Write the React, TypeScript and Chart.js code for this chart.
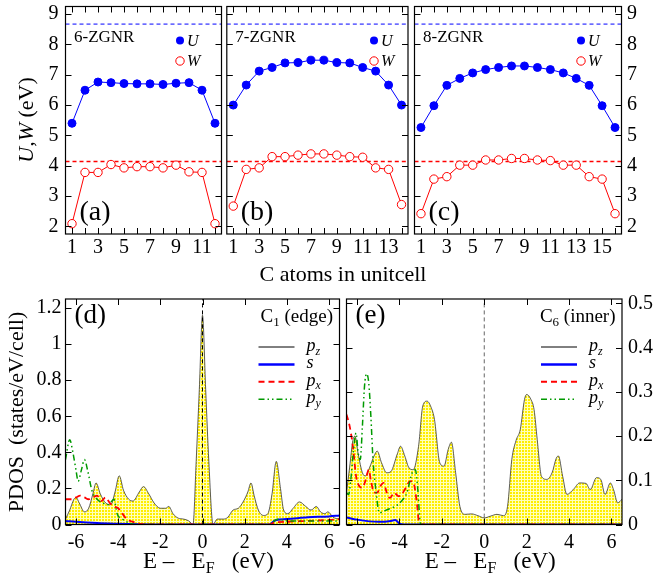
import React, { useEffect, useRef } from "react";
import { Chart, registerables } from "chart.js";
Chart.register(...registerables);

const W = 654;
const H = 585;
const FONT = '"Liberation Serif", "Times New Roman", serif';

// ---------------- Top panels: U and W for each C atom ----------------
const atoms6 = [1, 2, 3, 4, 5, 6, 7, 8, 9, 10, 11, 12];
const U6 = [5.4, 6.49, 6.76, 6.74, 6.71, 6.7, 6.7, 6.68, 6.72, 6.74, 6.49, 5.4];
const W6 = [2.09, 3.78, 3.78, 4.04, 3.93, 3.97, 3.97, 3.93, 4.02, 3.8, 3.78, 2.09];

const atoms7 = [1, 2, 3, 4, 5, 6, 7, 8, 9, 10, 11, 12, 13, 14];
const U7 = [6.0, 6.66, 7.12, 7.24, 7.39, 7.4, 7.48, 7.48, 7.4, 7.39, 7.24, 7.12, 6.66, 6.0];
const W7 = [2.67, 3.88, 3.93, 4.3, 4.3, 4.35, 4.39, 4.39, 4.35, 4.3, 4.28, 3.93, 3.88, 2.72];

const atoms8 = [1, 2, 3, 4, 5, 6, 7, 8, 9, 10, 11, 12, 13, 14, 15, 16];
const U8 = [5.26, 5.98, 6.65, 6.88, 7.06, 7.17, 7.24, 7.29, 7.29, 7.24, 7.17, 7.06, 6.88, 6.65, 5.98, 5.26];
const W8 = [2.42, 3.56, 3.64, 4.02, 4.02, 4.19, 4.19, 4.24, 4.24, 4.19, 4.17, 4.02, 4.02, 3.64, 3.56, 2.42];

const U_BULK = 8.67;
const W_BULK = 4.14;
const uwTicks = [2, 3, 4, 5, 6, 7, 8, 9];
const atomLabels6 = [1, 3, 5, 7, 9, 11];
const atomLabels7 = [1, 3, 5, 7, 9, 11, 13];
const atomLabels8 = [1, 3, 5, 7, 9, 11, 13, 15];

// ---------------- Bottom panels: PDOS ----------------
const energyTicks = [-6, -4, -2, 0, 2, 4, 6];
const pdosEdgeTicks = [0, 0.2, 0.4, 0.6, 0.8, 1, 1.2];
const pdosInnerTicks = [0, 0.1, 0.2, 0.3, 0.4, 0.5];

// C1 (edge)
const edgePzE = [-6.5, -6.3, -6.1, -6.0, -5.85, -5.6, -5.4, -5.2, -5.05, -4.85, -4.6, -4.35, -4.15, -3.95, -3.75, -3.5, -3.3, -3.0, -2.8, -2.55, -2.3, -2.0, -1.75, -1.6, -1.4, -1.15, -0.9, -0.65, -0.45, -0.3, -0.15, 0, 0.15, 0.3, 0.5, 0.7, 1.0, 1.2, 1.45, 1.7, 1.95, 2.15, 2.3, 2.45, 2.65, 2.9, 3.1, 3.3, 3.5, 3.7, 3.85, 4.05, 4.3, 4.6, 4.9, 5.15, 5.4, 5.6, 5.8, 5.95, 6.2, 6.5];
const edgePzV = [0.03, 0.08, 0.14, 0.15, 0.12, 0.07, 0.09, 0.17, 0.23, 0.17, 0.12, 0.11, 0.18, 0.27, 0.19, 0.14, 0.13, 0.18, 0.21, 0.17, 0.12, 0.09, 0.09, 0.1, 0.06, 0.035, 0.03, 0.02, 0.0, 0.35, 0.75, 1.16, 0.75, 0.35, 0.0, 0.03, 0.03, 0.04, 0.08, 0.09, 0.13, 0.18, 0.23, 0.16, 0.08, 0.05, 0.06, 0.17, 0.35, 0.2, 0.08, 0.06, 0.09, 0.125, 0.1, 0.08, 0.1, 0.07, 0.06, 0.07, 0.04, 0.03];
const edgeSE = [-6.5, -6.0, -5.0, -4.0, -3.0, -2.5, 3.2, 3.35, 3.5, 4.0, 5.0, 6.0, 6.5];
const edgeSV = [0.02, 0.015, 0.008, 0.004, 0.001, 0, 0, 0.015, 0.025, 0.03, 0.04, 0.045, 0.05];
const edgePxE = [-6.5, -6.2, -6.0, -5.8, -5.6, -5.4, -5.2, -5.0, -4.8, -4.6, -4.4, -4.2, -4.0, -3.8, -3.6, -3.3, -3.0, -2.5, 3.2, 3.4, 4.0, 5.0, 6.0, 6.5];
const edgePxV = [0.14, 0.14, 0.15, 0.16, 0.15, 0.14, 0.15, 0.16, 0.13, 0.15, 0.12, 0.1, 0.09, 0.06, 0.03, 0.015, 0.005, 0, 0, 0.01, 0.015, 0.02, 0.025, 0.03];
const edgePyE = [-6.5, -6.3, -6.15, -6.0, -5.9, -5.75, -5.6, -5.45, -5.25, -5.0, -4.75, -4.5, -4.3, -4.2, -4.05, -3.8, -3.5, -3.2, -3.0, 3.2, 3.4, 3.6, 4.0, 5.0, 6.0, 6.5];
const edgePyV = [0.36, 0.47, 0.4, 0.3, 0.24, 0.3, 0.36, 0.3, 0.19, 0.14, 0.12, 0.11, 0.13, 0.14, 0.06, 0.03, 0.01, 0.0, 0, 0, 0.02, 0.03, 0.02, 0.02, 0.02, 0.02];

// C6 (inner)
const innerPzE = [-6.5, -6.35, -6.2, -6.1, -5.95, -5.75, -5.6, -5.4, -5.2, -5.05, -4.85, -4.6, -4.4, -4.1, -3.95, -3.75, -3.55, -3.35, -3.1, -2.9, -2.7, -2.5, -2.35, -2.1, -1.9, -1.7, -1.55, -1.35, -1.15, -0.9, -0.6, -0.3, 0, 0.3, 0.6, 0.9, 1.1, 1.3, 1.5, 1.7, 1.9, 2.0, 2.2, 2.35, 2.5, 2.7, 2.95, 3.2, 3.4, 3.5, 3.7, 3.9, 4.2, 4.5, 4.8, 5.0, 5.3, 5.5, 5.7, 5.95, 6.1, 6.3, 6.5];
const innerPzV = [0.072, 0.13, 0.19, 0.2, 0.16, 0.117, 0.11, 0.13, 0.155, 0.166, 0.14, 0.117, 0.12, 0.16, 0.177, 0.155, 0.128, 0.124, 0.177, 0.268, 0.279, 0.264, 0.238, 0.14, 0.132, 0.17, 0.186, 0.117, 0.041, 0.023, 0.024, 0.02, 0.015, 0.019, 0.023, 0.02, 0.041, 0.147, 0.19, 0.215, 0.283, 0.294, 0.283, 0.26, 0.192, 0.109, 0.102, 0.117, 0.15, 0.155, 0.109, 0.068, 0.079, 0.094, 0.093, 0.079, 0.106, 0.102, 0.068, 0.094, 0.079, 0.049, 0.057];
const innerSE = [-6.5, -6.0, -5.0, -4.4, -4.2, -4.0, -3.8, 6.5];
const innerSV = [0.016, 0.011, 0.006, 0.008, 0.01, 0.002, 0, 0];
const innerPxE = [-6.5, -6.35, -6.2, -6.05, -5.9, -5.75, -5.6, -5.45, -5.35, -5.2, -5.05, -4.9, -4.75, -4.6, -4.45, -4.25, -4.05, -3.9, -3.7, -3.5, -3.35, -3.2, -3.05, 6.5];
const innerPxV = [0.249, 0.222, 0.177, 0.11, 0.087, 0.083, 0.1, 0.124, 0.1, 0.072, 0.072, 0.087, 0.094, 0.072, 0.06, 0.072, 0.064, 0.068, 0.083, 0.098, 0.096, 0.057, 0, 0];
const innerPyE = [-6.5, -6.4, -6.3, -6.15, -6.05, -5.95, -5.85, -5.75, -5.65, -5.55, -5.45, -5.35, -5.25, -5.1, -4.95, -4.75, -4.5, -4.2, -3.9, -3.65, -3.4, -3.25, -3.15, -3.0, 6.5];
const innerPyV = [0.072, 0.068, 0.1, 0.177, 0.207, 0.162, 0.147, 0.222, 0.313, 0.341, 0.32, 0.245, 0.147, 0.072, 0.026, 0.03, 0.035, 0.041, 0.053, 0.072, 0.117, 0.124, 0.087, 0, 0];

const BLUE = "#0000ff";
const RED = "#ff0000";
const GREEN = "#009a00";
const DASH_PY = [6, 3, 1.5, 3, 1.5, 3];

type Seg = { t: string; it?: boolean; sub?: boolean };
type Area = { left: number; right: number; top: number; bottom: number };

function drawRich(
  ctx: CanvasRenderingContext2D,
  segs: Seg[],
  x: number,
  y: number,
  size: number,
  align: "left" | "right" | "center",
  rot = false
) {
  ctx.save();
  ctx.translate(x, y);
  if (rot) ctx.rotate(-Math.PI / 2);
  const fontOf = (s: Seg) =>
    `${s.it ? "italic " : ""}${s.sub ? Math.round(size * 0.68) : size}px ${FONT}`;
  let total = 0;
  const widths = segs.map((s) => {
    ctx.font = fontOf(s);
    const w = ctx.measureText(s.t).width;
    total += w;
    return w;
  });
  let cx = align === "left" ? 0 : align === "right" ? -total : -total / 2;
  ctx.textBaseline = "middle";
  ctx.textAlign = "left";
  ctx.fillStyle = "#000";
  segs.forEach((s, i) => {
    ctx.font = fontOf(s);
    ctx.fillText(s.t, cx, s.sub ? size * 0.3 : 0);
    cx += widths[i];
  });
  ctx.restore();
}

type Decor = {
  tickLen: number;
  draw?: (ctx: CanvasRenderingContext2D, a: Area) => void;
};

function decorPlugin(cfg: Decor) {
  return {
    id: "decor",
    afterDraw(chart: any) {
      const ctx: CanvasRenderingContext2D = chart.ctx;
      const a = chart.chartArea;
      ctx.save();
      ctx.setLineDash([]);
      ctx.strokeStyle = "#000";
      ctx.lineWidth = 1;
      ctx.beginPath();
      const xs = chart.scales.x;
      xs.ticks.forEach((t: any) => {
        const p = Math.round(xs.getPixelForValue(t.value)) + 0.5;
        ctx.moveTo(p, a.bottom);
        ctx.lineTo(p, a.bottom - cfg.tickLen);
        ctx.moveTo(p, a.top);
        ctx.lineTo(p, a.top + cfg.tickLen);
      });
      const ys = chart.scales.y;
      ys.ticks.forEach((t: any) => {
        const p = Math.round(ys.getPixelForValue(t.value)) + 0.5;
        ctx.moveTo(a.left, p);
        ctx.lineTo(a.left + cfg.tickLen, p);
        ctx.moveTo(a.right, p);
        ctx.lineTo(a.right - cfg.tickLen, p);
      });
      ctx.stroke();
      ctx.lineWidth = 1.2;
      ctx.strokeRect(a.left, a.top, a.right - a.left, a.bottom - a.top);
      ctx.restore();
      if (cfg.draw) cfg.draw(ctx, a);
    },
  };
}

function pts(xs: number[], ys: number[]) {
  return xs.map((x, i) => ({ x, y: ys[i] }));
}

function zeroPad(s: any) {
  s.paddingTop = 0;
  s.paddingBottom = 0;
  s.paddingLeft = 0;
  s.paddingRight = 0;
}

function baseOptions(
  area: Area,
  xr: [number, number],
  yr: [number, number],
  xTicks: number[],
  xLabels: number[],
  yTicks: number[],
  yLabels: boolean,
  yPos: "left" | "right",
  xPad: number,
  yPad: number
) {
  const tickFont = { family: FONT, size: 20 };
  return {
    responsive: false,
    animation: false,
    events: [],
    layout: {
      padding: {
        left: yPos === "left" ? 0 : area.left,
        right: yPos === "right" ? 0 : W - area.right,
        top: area.top,
        bottom: 0,
      },
    },
    plugins: { legend: { display: false }, tooltip: { enabled: false } },
    scales: {
      x: {
        type: "linear",
        position: "bottom",
        min: xr[0],
        max: xr[1],
        grid: { display: false, drawTicks: false },
        border: { display: false },
        ticks: {
          font: tickFont,
          color: "#000",
          padding: xPad,
          autoSkip: false,
          maxRotation: 0,
          minRotation: 0,
          callback: (v: number) => (xLabels.includes(v) ? String(v) : ""),
        },
        afterBuildTicks: (s: any) => {
          s.ticks = xTicks.map((v) => ({ value: v }));
        },
        afterFit: (s: any) => {
          s.height = H - area.bottom;
          zeroPad(s);
        },
      },
      y: {
        type: "linear",
        position: yPos,
        min: yr[0],
        max: yr[1],
        grid: { display: false, drawTicks: false },
        border: { display: false },
        ticks: {
          display: yLabels,
          font: tickFont,
          color: "#000",
          padding: yPad,
          autoSkip: false,
          callback: (v: number) => String(v),
        },
        afterBuildTicks: (s: any) => {
          s.ticks = yTicks.map((v) => ({ value: v }));
        },
        afterFit: (s: any) => {
          s.width = yPos === "left" ? area.left : W - area.right;
          zeroPad(s);
        },
      },
    },
  };
}

function topChart(
  canvas: HTMLCanvasElement,
  area: Area,
  atoms: number[],
  U: number[],
  Wv: number[],
  labels: number[],
  name: string,
  tag: string,
  yLabels: boolean,
  yPos: "left" | "right",
  legendDx: number,
  extra?: (ctx: CanvasRenderingContext2D, a: Area) => void
) {
  const n = atoms.length;
  const xr: [number, number] = [0.5, n + 0.5];
  const opts: any = baseOptions(area, xr, [1.75, 9.25], atoms, labels, uwTicks, yLabels, yPos, 2, yPos === "left" ? 7 : 5.5);
  return new Chart(canvas, {
    type: "line",
    data: {
      datasets: [
        {
          data: pts(atoms, U),
          borderColor: BLUE,
          borderWidth: 1,
          pointRadius: 4,
          pointBackgroundColor: BLUE,
          pointBorderColor: BLUE,
          pointBorderWidth: 1,
          order: 0,
        },
        {
          data: pts(atoms, Wv),
          borderColor: RED,
          borderWidth: 1,
          pointRadius: 4.2,
          pointBackgroundColor: "#fff",
          pointBorderColor: RED,
          pointBorderWidth: 1,
          order: 1,
        },
        {
          data: pts(xr, [U_BULK, U_BULK]),
          borderColor: BLUE,
          borderWidth: 1,
          borderDash: [4, 3],
          pointRadius: 0,
          order: 2,
        },
        {
          data: pts(xr, [W_BULK, W_BULK]),
          borderColor: "rgb(255,0,0)",
          borderWidth: 1.4,
          borderDash: [4, 3],
          pointRadius: 0,
          order: 3,
        },
      ],
    },
    options: opts,
    plugins: [
      decorPlugin({
        tickLen: 6,
        draw: (ctx, a) => {
          drawRich(ctx, [{ t: name }], a.left + 8.5, a.top + 31, 17, "left");
          drawRich(ctx, [{ t: tag }], a.left + 14, a.bottom - 21, 28, "left");
          const lx = a.right - legendDx;
          ctx.save();
          ctx.setLineDash([]);
          ctx.fillStyle = BLUE;
          ctx.beginPath();
          ctx.arc(lx, a.top + 34, 4, 0, Math.PI * 2);
          ctx.fill();
          ctx.strokeStyle = RED;
          ctx.fillStyle = "#fff";
          ctx.lineWidth = 1;
          ctx.beginPath();
          ctx.arc(lx, a.top + 54.5, 4.2, 0, Math.PI * 2);
          ctx.fill();
          ctx.stroke();
          ctx.restore();
          drawRich(ctx, [{ t: "U", it: true }], lx + 7, a.top + 35, 16, "left");
          drawRich(ctx, [{ t: "W", it: true }], lx + 7, a.top + 55.5, 16, "left");
          if (extra) extra(ctx, a);
        },
      }),
    ],
  } as any);
}

function pdosChart(
  canvas: HTMLCanvasElement,
  area: Area,
  yMax: number,
  yTicks: number[],
  yPos: "left" | "right",
  fill: CanvasPattern | string,
  vColor: string,
  series: { pz: [number[], number[]]; s: [number[], number[]]; px: [number[], number[]]; py: [number[], number[]] },
  tag: string,
  atom: string,
  atomNote: string,
  extra?: (ctx: CanvasRenderingContext2D, a: Area) => void
) {
  const opts: any = baseOptions(area, [-6.5, 6.5], [0, yMax], energyTicks, energyTicks, yTicks, true, yPos, 6.5, yPos === "left" ? 4 : 6);
  const common = { pointRadius: 0, cubicInterpolationMode: "monotone", fill: false };
  return new Chart(canvas, {
    type: "line",
    data: {
      datasets: [
        { ...common, data: pts([0, 0], [0, yMax]), borderColor: vColor, borderWidth: 1, borderDash: [4, 3], order: 0 },
        { ...common, data: pts(series.py[0], series.py[1]), borderColor: GREEN, borderWidth: 1.5, borderDash: DASH_PY, order: 1 },
        { ...common, data: pts(series.px[0], series.px[1]), borderColor: RED, borderWidth: 1.8, borderDash: [6, 4], order: 2 },
        { ...common, data: pts(series.s[0], series.s[1]), borderColor: BLUE, borderWidth: 2, order: 3 },
        { ...common, data: pts(series.pz[0], series.pz[1]), borderColor: "#333", borderWidth: 0.8, fill: "origin", backgroundColor: fill, order: 4 },
      ],
    },
    options: opts,
    plugins: [
      decorPlugin({
        tickLen: 6,
        draw: (ctx, a) => {
          drawRich(ctx, [{ t: tag }], a.left + 9, a.top + 17, 27, "left");
          drawRich(ctx, [{ t: "C" }, { t: atom, sub: true }, { t: " " + atomNote }], a.right - 6.5, a.top + 18, 19, "right");
          const rows: { lbl: Seg[]; color: string; w: number; dash: number[] }[] = [
            { lbl: [{ t: "p", it: true }, { t: "z", it: true, sub: true }], color: "#000", w: 1, dash: [] },
            { lbl: [{ t: "s", it: true }], color: BLUE, w: 2.5, dash: [] },
            { lbl: [{ t: "p", it: true }, { t: "x", it: true, sub: true }], color: RED, w: 2, dash: [6, 4] },
            { lbl: [{ t: "p", it: true }, { t: "y", it: true, sub: true }], color: GREEN, w: 1.5, dash: DASH_PY },
          ];
          rows.forEach((r, i) => {
            const y = a.top + 48 + i * 17.4;
            ctx.save();
            ctx.strokeStyle = r.color;
            ctx.lineWidth = r.w;
            ctx.setLineDash(r.dash);
            ctx.beginPath();
            ctx.moveTo(a.right - 81, y);
            ctx.lineTo(a.right - 45, y);
            ctx.stroke();
            ctx.restore();
            drawRich(ctx, r.lbl, a.right - 33, y - 1, 18, "left");
          });
          drawRich(
            ctx,
            [{ t: "E \u2013   E" }, { t: "F", sub: true }, { t: "   (eV)" }],
            (a.left + a.right) / 2 + 6,
            562,
            23,
            "center"
          );
          if (extra) extra(ctx, a);
        },
      }),
    ],
  } as any);
}

function makePattern(): CanvasPattern | string {
  const c = document.createElement("canvas");
  c.width = 3;
  c.height = 3;
  const g = c.getContext("2d");
  if (!g) return "#ffff80";
  g.fillStyle = "#ffffb8";
  g.fillRect(0, 0, 3, 3);
  g.fillStyle = "#ffee00";
  g.fillRect(0, 0, 2, 2);
  const p = g.createPattern(c, "repeat");
  return p || "#ffff80";
}

export default function App() {
  const refs = [
    useRef<HTMLCanvasElement>(null),
    useRef<HTMLCanvasElement>(null),
    useRef<HTMLCanvasElement>(null),
    useRef<HTMLCanvasElement>(null),
    useRef<HTMLCanvasElement>(null),
  ];
  useEffect(() => {
    const cs = refs.map((r) => r.current as HTMLCanvasElement);
    const pat = makePattern();
    const areaA = { left: 65.5, right: 221.5, top: 6.5, bottom: 234 };
    const areaB = { left: 226.8, right: 408, top: 6.5, bottom: 234 };
    const areaC = { left: 414.5, right: 621.5, top: 6.5, bottom: 234 };
    const areaD = { left: 65.5, right: 339.5, top: 299, bottom: 524.5 };
    const areaE = { left: 346.5, right: 622, top: 299, bottom: 524.5 };
    const charts = [
      topChart(cs[0], areaA, atoms6, U6, W6, atomLabels6, "6-ZGNR", "(a)", true, "left", 41.5, (ctx) => {
        drawRich(ctx, [{ t: "U,W", it: true }, { t: " (eV)" }], 27, 120, 22, "center", true);
        drawRich(ctx, [{ t: "C atoms in unitcell" }], 343, 275, 22, "center");
      }),
      topChart(cs[1], areaB, atoms7, U7, W7, atomLabels7, "7-ZGNR", "(b)", false, "left", 34),
      topChart(cs[2], areaC, atoms8, U8, W8, atomLabels8, "8-ZGNR", "(c)", true, "right", 40.5),
      pdosChart(
        cs[3],
        areaD,
        1.25,
        pdosEdgeTicks,
        "left",
        pat,
        "#000",
        { pz: [edgePzE, edgePzV], s: [edgeSE, edgeSV], px: [edgePxE, edgePxV], py: [edgePyE, edgePyV] },
        "(d)",
        "1",
        "(edge)",
        (ctx) => {
          drawRich(ctx, [{ t: "PDOS  (states/eV/cell)" }], 17, 412, 22, "center", true);
        }
      ),
      pdosChart(
        cs[4],
        areaE,
        0.51,
        pdosInnerTicks,
        "right",
        pat,
        "#666",
        { pz: [innerPzE, innerPzV], s: [innerSE, innerSV], px: [innerPxE, innerPxV], py: [innerPyE, innerPyV] },
        "(e)",
        "6",
        "(inner)"
      ),
    ];
    return () => charts.forEach((c) => c.destroy());
  }, []);
  return (
    <div style={{ position: "absolute", left: 0, top: 0, width: W, height: H, background: "#fff" }}>
      {refs.map((r, i) => (
        <canvas key={i} ref={r} width={W} height={H} style={{ position: "absolute", left: 0, top: 0 }} />
      ))}
    </div>
  );
}
